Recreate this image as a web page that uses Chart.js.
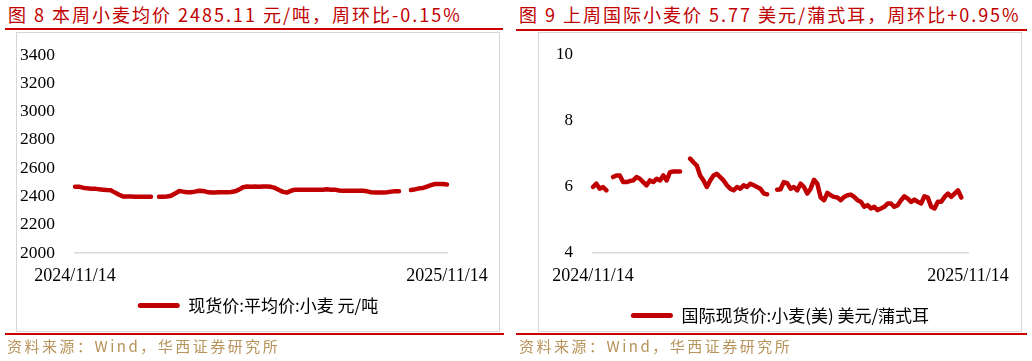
<!DOCTYPE html>
<html>
<head>
<meta charset="utf-8">
<script src="https://cdn.jsdelivr.net/npm/chart.js@4.4.0/dist/chart.umd.min.js"></script>
<style>
  body { margin: 0; width: 1032px; height: 361px; background: #fff; position: relative; overflow: hidden; font-family: "Noto Sans CJK SC", sans-serif; }
  .title { position: absolute; top: 3px; font-size: 18px; line-height: 22px; color: #C00000; letter-spacing: 2px; white-space: nowrap; }
  .rule { position: absolute; height: 2px; background: #CC0000; }
  .frame { position: absolute; top: 32px; width: 484px; height: 300px; box-sizing: border-box; border: 1px solid #d6d6d6; pointer-events: none; }
  canvas { position: absolute; top: 32px; }
  .source { position: absolute; top: 337px; font-size: 15px; line-height: 18px; color: #B8935A; letter-spacing: 2.5px; white-space: nowrap; }
</style>
</head>
<body>
  <div class="title" style="left:8px">图 8 本周小麦均价 2485.11 元/吨，周环比-0.15%</div>
  <div class="rule" style="left:5px;top:28px;width:498px"></div>
  <canvas id="chart-domestic" width="484" height="300" style="left:16px"></canvas>
  <div class="frame" style="left:16px"></div>
  <div class="rule" style="left:5px;top:333px;width:499px"></div>
  <div class="source" style="left:7px">资料来源：Wind，华西证券研究所</div>

  <div class="title" style="left:519px">图 9 上周国际小麦价 5.77 美元/蒲式耳，周环比+0.95%</div>
  <div class="rule" style="left:516px;top:29px;width:511px"></div>
  <canvas id="chart-intl" width="484" height="300" style="left:538px"></canvas>
  <div class="frame" style="left:538px"></div>
  <div class="rule" style="left:516px;top:333px;width:511px"></div>
  <div class="source" style="left:519px">资料来源：Wind，华西证券研究所</div>

<script>
// 现货价:平均价:小麦 (元/吨), 2024/11/14 - 2025/11/14
const domesticPrices = [
  2469, 2468, 2462, 2457, 2455, 2455, 2450, 2448, 2445, 2443,
  2427, 2412, 2400, 2400, 2400, 2398, 2398, 2398, 2398, 2398,
  null, 2398, 2398, 2400, 2405, 2420, 2438, 2434, 2430, 2430,
  2434, 2440, 2438, 2432, 2428, 2428, 2430, 2430, 2430, 2432,
  2436, 2448, 2465, 2470, 2468, 2470, 2468, 2470, 2470, 2468,
  2460, 2445, 2432, 2427, 2440, 2448, 2448, 2448, 2448, 2448,
  2448, 2448, 2448, 2450, 2448, 2448, 2442, 2440, 2440, 2440,
  2440, 2440, 2440, 2436, 2430, 2428, 2428, 2428, 2430, 2434,
  2436, 2436, null, null, 2445, 2450, 2457, 2460, 2470, 2480,
  2488, 2488, 2488, 2485
];

// 国际现货价:小麦(美) (美元/蒲式耳)
const intlPrices = [
  6.00, 6.10, 5.95, 6.00, 5.90, null, 6.30, 6.35, 6.35, 6.15,
  6.15, 6.18, 6.20, 6.30, 6.25, 6.15, 6.05, 6.20, 6.15, 6.25,
  6.20, 6.35, 6.20, 6.45, 6.47, 6.47, 6.47, null, null, 6.86,
  6.75, 6.65, 6.35, 6.20, 6.00, 6.20, 6.35, 6.40, 6.30, 6.20,
  6.05, 5.95, 5.90, 6.00, 5.95, 6.05, 6.00, 6.10, 6.05, 6.00,
  5.95, 5.80, 5.78, null, null, 5.92, 5.93, 6.15, 6.12, 5.95,
  6.00, 5.90, 6.10, 6.00, 5.80, 5.95, 6.22, 6.10, 5.68, 5.60,
  5.82, 5.75, 5.70, 5.68, 5.60, 5.70, 5.75, 5.77, 5.70, 5.60,
  5.55, 5.40, 5.45, 5.35, 5.40, 5.30, 5.35, 5.40, 5.50, 5.50,
  5.40, 5.45, 5.60, 5.72, 5.65, 5.55, 5.62, 5.55, 5.50, 5.72,
  5.68, 5.40, 5.35, 5.55, 5.55, 5.70, 5.80, 5.70, 5.80, 5.90,
  5.68, null, null
];

const domesticTickLabels = ['2024/11/14', '2025/11/14'];
const intlTickLabels = ['2024/11/14', '2025/11/14'];

const domesticLabel = '现货价:平均价:小麦 元/吨';
const intlLabel = '国际现货价:小麦(美) 美元/蒲式耳';

const LINE_RED = '#C00000';

function buildChart(canvasId, { values, tickLabels, label, yMin, yMax, yStep, yWidth, padRight, padBottom, xHeight, legendPad, yTickSize }) {
  const ctx = document.getElementById(canvasId).getContext('2d');
  const last = values.length - 1;
  return new Chart(ctx, {
    type: 'line',
    data: {
      labels: values.map((_, i) => i),
      datasets: [
        {
          label,
          data: values,
          borderColor: LINE_RED,
          backgroundColor: LINE_RED,
          borderWidth: 4.5,
          borderCapStyle: 'round',
          borderJoinStyle: 'round',
          pointRadius: 0,
          tension: 0,
          spanGaps: false,
        },
      ],
    },
    options: {
      responsive: false,
      animation: false,
      layout: { padding: { left: 0, top: 23, right: 0, bottom: padBottom } },
      plugins: {
        tooltip: { enabled: false },
        legend: {
          position: 'bottom',
          labels: {
            color: '#111',
            font: { family: '"Noto Sans CJK SC", sans-serif', size: 17 },
            boxWidth: 42,
            boxHeight: 5,
            padding: legendPad,
            generateLabels: () => [{
              text: label,
              fillStyle: LINE_RED,
              strokeStyle: LINE_RED,
              lineWidth: 0,
              borderRadius: 2.5,
              datasetIndex: 0,
            }],
          },
        },
      },
      scales: {
        x: {
          grid: { display: false, drawTicks: false },
          border: { display: true, color: '#d9d9d9', width: 1.5 },
          ticks: {
            autoSkip: false,
            maxRotation: 0,
            padding: 12,
            color: '#000',
            font: { family: '"Liberation Serif", serif', size: 18 },
            callback: (value, index) => (index === 0 ? tickLabels[0] : index === last ? tickLabels[1] : null),
          },
          afterFit: (scale) => {
            scale.height = xHeight;
            scale.paddingLeft = 0;
            scale.paddingRight = padRight;
          },
        },
        y: {
          min: yMin,
          max: yMax,
          grid: { display: false, drawTicks: false },
          border: { display: false },
          ticks: {
            stepSize: yStep,
            padding: 20,
            color: '#000',
            font: { family: '"Liberation Serif", serif', size: yTickSize },
            callback: (value) => String(value),
          },
          afterFit: (scale) => {
            scale.width = yWidth;
            scale.paddingTop = 0;
            scale.paddingBottom = 0;
          },
        },
      },
    },
  });
}

buildChart('chart-domestic', {
  values: domesticPrices,
  tickLabels: domesticTickLabels,
  label: domesticLabel,
  yMin: 2000, yMax: 3400, yStep: 200,
  yWidth: 59, padRight: 53, padBottom: 8, xHeight: 34, legendPad: 10, yTickSize: 17.5,
});

buildChart('chart-intl', {
  values: intlPrices,
  tickLabels: intlTickLabels,
  label: intlLabel,
  yMin: 4, yMax: 10, yStep: 2,
  yWidth: 55, padRight: 54, padBottom: -2, xHeight: 44, legendPad: 10, yTickSize: 17,
});
</script>
</body>
</html>
